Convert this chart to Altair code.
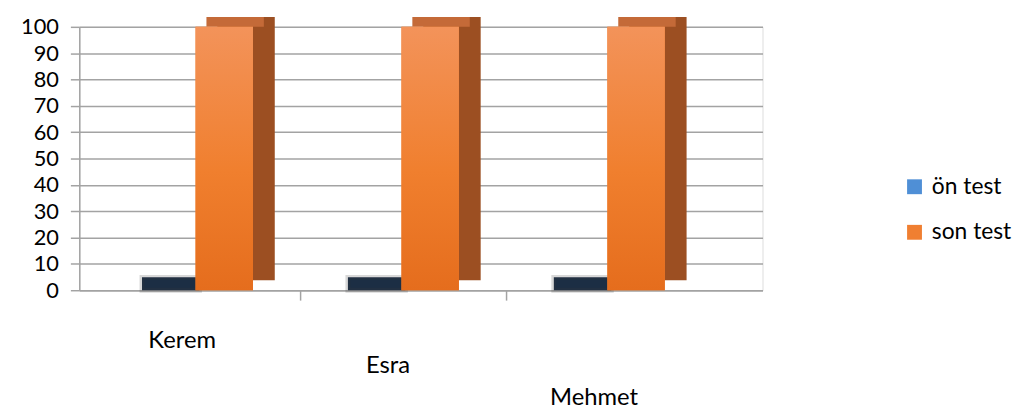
import altair as alt
import pandas as pd

categories = ["Kerem", "Esra", "Mehmet"]
series = ["ön test", "son test"]
on_test = [0, 0, 0]
son_test = [100, 100, 100]
y_ticks = [0, 10, 20, 30, 40, 50, 60, 70, 80, 90, 100]

rows = []
for i, c in enumerate(categories):
    rows.append({"name": c, "series": series[0], "value": on_test[i]})
    rows.append({"name": c, "series": series[1], "value": son_test[i]})
df = pd.DataFrame(rows)

FONT = "Lato"
GRID = "#a3a3a3"
cat_list = "[" + ",".join("'" + c + "'" for c in categories) + "]"

x_enc = alt.X("pos:Q", title=None,
              scale=alt.Scale(domain=[-0.55, 2.72], nice=False, zero=False),
              axis=alt.Axis(values=[0, 0.5, 1, 1.5, 2], grid=False,
                            labelExpr="datum.value % 1 == 0 ? " + cat_list + "[datum.value] : ''",
                            labelAngle=0, labelFontSize=24, labelFont=FONT, labelColor="#000000",
                            domainColor=GRID, domainWidth=1.5, tickColor=GRID, tickWidth=1.5,
                            tickSize=10, labelOffset=-16,
                            tickOpacity={"condition": {"test": "datum.value % 1 == 0", "value": 0},
                                         "value": 1},
                            labelPadding={"condition": [
                                {"test": "datum.value == 1", "value": 54},
                                {"test": "datum.value == 2", "value": 86}],
                                "value": 29}))
y_enc = alt.Y("value:Q", title=None,
              scale=alt.Scale(domain=[0, 100], nice=False),
              axis=alt.Axis(values=y_ticks, labelFontSize=22, labelFont=FONT, labelColor="#000000",
                            domainColor=GRID, domainWidth=1.5, tickColor=GRID, tickWidth=1.5,
                            tickSize=9, labelPadding=12, gridColor=GRID, gridWidth=1.5))

base = alt.Chart(df).transform_calculate(
    idx="indexof(" + cat_list + ", datum.name)"
).transform_calculate(
    pos="datum.idx + (datum.series == '" + series[0] + "' ? -0.13 : 0.13)"
)

BW = 58

slab = base.transform_filter(alt.datum.series == series[0]).mark_bar(
    width=BW, color="#1c2e44", yOffset=-13, y2Offset=0,
    stroke="#3a3a3a", strokeWidth=5, strokeOpacity=0.2
).encode(x=x_enc, y=y_enc, y2=alt.datum(0))

side = base.transform_filter(alt.datum.series == series[1]).mark_bar(
    width=BW, color="#9c4f22", xOffset=22, yOffset=-10, y2Offset=-10
).encode(x=x_enc, y=y_enc, y2=alt.datum(0))

top = base.transform_filter(alt.datum.series == series[1]).mark_bar(
    width=BW, color="#c46a38", xOffset=11, yOffset=-10, y2Offset=0
).encode(x=x_enc, y=y_enc, y2=alt.Y2("value:Q"))

legend_layer = base.mark_bar(width=BW).encode(
    x=x_enc, y=y_enc,
    color=alt.Color("series:N", sort=series,
                    scale=alt.Scale(domain=series, range=["#4f8fd6", "#f07f31"]),
                    legend=alt.Legend(title=None, orient="none", legendX=832, legendY=150,
                                      symbolType="square", symbolSize=225, symbolStrokeWidth=0,
                                      labelFontSize=23, labelFont=FONT, labelColor="#000000",
                                      rowPadding=22, labelOffset=6)),
)

front_fill = alt.Gradient(
    gradient="linear", x1=0, y1=0, x2=0, y2=1,
    stops=[alt.GradientStop(color="#f3935a", offset=0),
           alt.GradientStop(color="#f07f2e", offset=0.55),
           alt.GradientStop(color="#e56d1d", offset=1)])

front = base.transform_filter(alt.datum.series == series[1]).mark_bar(
    width=BW, fill=front_fill
).encode(x=x_enc, y=y_enc)

chart = alt.layer(slab, side, top, legend_layer, front).properties(
    width=690, height=266,
    padding={"left": 12, "top": 6, "right": 5, "bottom": 5},
).configure_view(stroke=None).configure(font=FONT)

chart.save("out.html", embed_options={"renderer": "svg", "actions": False})
